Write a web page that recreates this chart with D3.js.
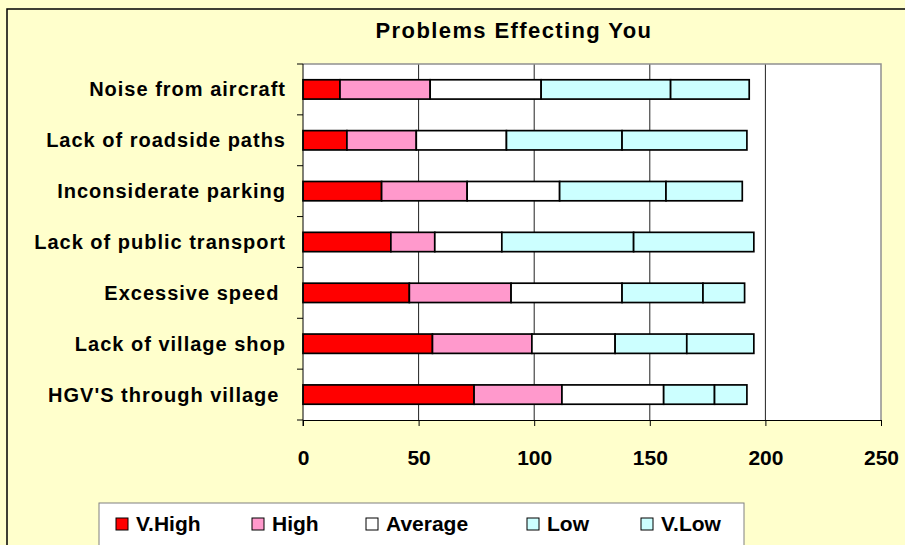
<!DOCTYPE html>
<html>
<head>
<meta charset="utf-8">
<script src="https://cdn.jsdelivr.net/npm/d3@7"></script>
<style>
  html, body { margin: 0; padding: 0; background: #FFFFCC; overflow: hidden; }
  svg { display: block; }
  text { font-family: "Liberation Sans", Arial, sans-serif; font-weight: bold; fill: #000; white-space: pre; }
</style>
</head>
<body>
<svg id="chart" width="905" height="545"></svg>
<script>
const categories = ["Noise from aircraft", "Lack of roadside paths", "Inconsiderate parking",
  "Lack of public transport", "Excessive speed ", "Lack of village shop", "HGV'S through village "];
const seriesNames = ["V.High", "High", "Average", "Low", "V.Low"];
const vHigh   = [16, 19, 34, 38, 46, 56, 74];
const high    = [39, 30, 37, 19, 44, 43, 38];
const average = [48, 39, 40, 29, 48, 36, 44];
const low     = [56, 50, 46, 57, 35, 31, 22];
const vLow    = [34, 54, 33, 52, 18, 29, 14];
const xTicks  = [0, 50, 100, 150, 200, 250];
const colors  = ["#FF0000", "#FF99CC", "#FFFFFF", "#CCFFFF", "#CCFFFF"];
const title   = "Problems Effecting You";

const rows = categories.map((c, i) => ({
  cat: c, "V.High": vHigh[i], "High": high[i], "Average": average[i], "Low": low[i], "V.Low": vLow[i]
}));
const stacked = d3.stack().keys(seriesNames)(rows);

const svg = d3.select("#chart");
const L = 303, R = 881, T = 64, B = 420;

// chart border
svg.append("rect").attr("x", 7).attr("y", 9).attr("width", 1000).attr("height", 1000)
  .attr("fill", "#FFFFCC").attr("stroke", "#000").attr("stroke-width", 1.5);

// title
svg.append("text").attr("x", 514).attr("y", 38).attr("text-anchor", "middle")
  .style("font-size", "22px").style("letter-spacing", "1.4px").text(title);

const x = d3.scaleLinear().domain([0, 250]).range([L, R]);
const y = d3.scaleBand().domain(categories).range([T, B]).paddingInner(0.62).paddingOuter(0.31);

// plot area
svg.append("rect").attr("x", L).attr("y", T).attr("width", R - L).attr("height", B - T)
  .attr("fill", "#fff");
// gridlines
svg.append("g").selectAll("line").data(xTicks.filter(t => t > 0 && t < 250)).join("line")
  .attr("x1", d => x(d)).attr("x2", d => x(d)).attr("y1", T).attr("y2", B)
  .attr("stroke", "#222").attr("stroke-width", 1);
// plot border top/right
svg.append("path").attr("d", `M${L},${T}H${R}V${B}`).attr("fill", "none")
  .attr("stroke", "#909090").attr("stroke-width", 1.5);

// bars
svg.append("g").selectAll("g").data(stacked).join("g")
  .attr("fill", (d, i) => colors[i])
  .selectAll("rect").data(d => d).join("rect")
  .attr("x", d => x(d[0])).attr("width", d => x(d[1]) - x(d[0]))
  .attr("y", d => y(d.data.cat)).attr("height", y.bandwidth())
  .attr("stroke", "#000").attr("stroke-width", 1.7);

// x axis
const xAxis = svg.append("g").attr("transform", `translate(0,${B})`)
  .call(d3.axisBottom(x).tickValues(xTicks).tickSize(6).tickPadding(24).tickSizeOuter(0));
xAxis.select(".domain").attr("stroke", "#000");
xAxis.selectAll("line").attr("stroke", "#000");
xAxis.selectAll("text").style("font-size", "21px").style("font-family", '"Liberation Sans", Arial, sans-serif')
  .style("font-weight", "bold").attr("dy", "0.72em").attr("y", 30);

// y axis: ticks at category boundaries
const boundaries = d3.range(0, categories.length + 1).map(i => T + i * (B - T) / categories.length);
svg.append("g").selectAll("line").data(boundaries).join("line")
  .attr("x1", L - 6).attr("x2", L).attr("y1", d => d).attr("y2", d => d)
  .attr("stroke", "#000");
svg.append("line").attr("x1", L).attr("x2", L).attr("y1", T).attr("y2", B + 6).attr("stroke", "#000");

// category labels
svg.append("g").selectAll("text").data(categories).join("text")
  .attr("x", 286).attr("y", d => y(d) + y.bandwidth() / 2 + 7)
  .attr("text-anchor", "end").style("font-size", "20px").style("letter-spacing", "1px")
  .text(d => d);

// legend
const lg = svg.append("g");
lg.append("rect").attr("x", 99).attr("y", 503).attr("width", 645).attr("height", 100)
  .attr("fill", "#fff").attr("stroke", "#808080").attr("stroke-width", 1);
const legendX = [116, 252, 366, 527, 641];
seriesNames.forEach((s, i) => {
  lg.append("rect").attr("x", legendX[i]).attr("y", 518).attr("width", 12).attr("height", 12)
    .attr("fill", colors[i]).attr("stroke", "#000").attr("stroke-width", 1);
  lg.append("text").attr("x", legendX[i] + 20).attr("y", 531).style("font-size", "21px").text(s);
});
</script>
</body>
</html>
